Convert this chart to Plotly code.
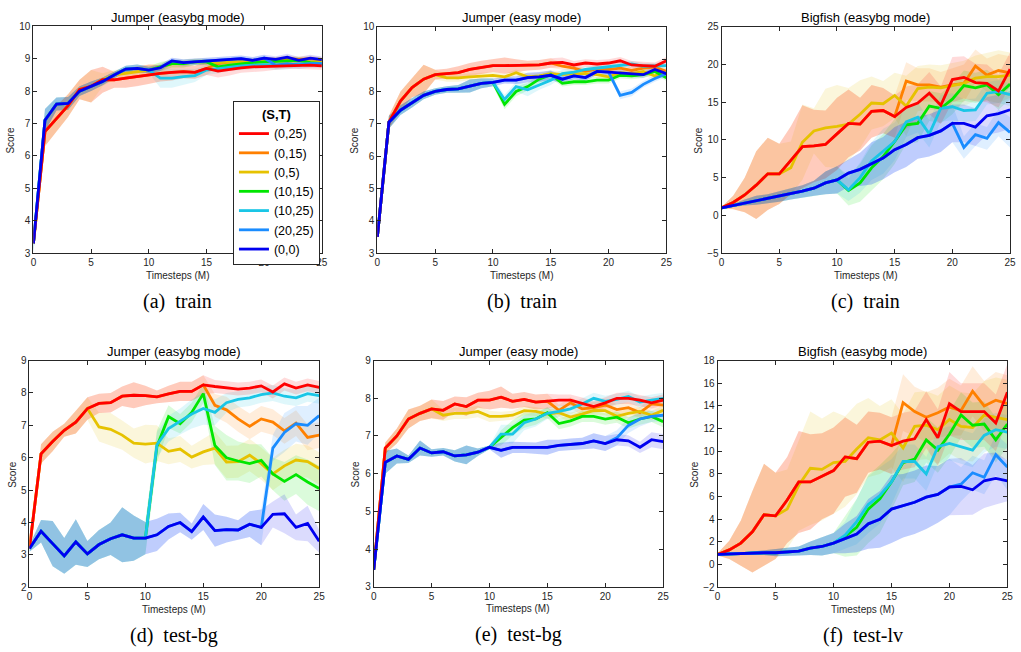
import plotly.graph_objects as go

T = list(range(26))
X_TICKS = [0, 5, 10, 15, 20, 25]
SERIES = ["(0,25)", "(0,15)", "(0,5)", "(10,15)", "(10,25)", "(20,25)", "(0,0)"]

# ---------- (a) Jumper easybg, train ----------
A_RED = [3.3, 6.75, 7.15, 7.55, 8.05, 8.15, 8.35, 8.35, 8.4, 8.45, 8.52, 8.55, 8.58, 8.6, 8.58, 8.7, 8.62, 8.68, 8.72, 8.75, 8.76, 8.78, 8.8, 8.8, 8.8, 8.78]
A_BLUE = [3.3, 7.1, 7.6, 7.62, 8.0, 8.15, 8.3, 8.5, 8.68, 8.7, 8.65, 8.72, 8.93, 8.88, 8.9, 8.92, 8.95, 8.98, 9.0, 8.95, 9.02, 8.98, 9.05, 8.95, 9.02, 8.97]
A_YELLOW = [8.35, 8.5, 8.55, 8.6, 8.65, 8.75, 8.85, 8.85, 8.9, 8.9, 8.88, 8.9, 8.92, 8.9, 8.92, 8.95, 8.92, 8.95, 8.9, 8.9]
A_ORANGE = [8.85, 8.9, 8.9, 8.92, 8.95, 8.95, 9.0, 8.98, 9.0, 8.95]
A_GREEN = [8.75, 8.85, 8.85, 8.9, 8.9, 8.75, 8.8, 8.85, 8.88, 8.9, 8.92, 8.95, 8.95, 8.88, 8.85]
A_CYAN = [8.4, 8.4, 8.45, 8.48, 8.65, 8.7, 8.75, 8.78, 8.8, 8.82, 8.8, 8.82, 8.85, 8.85, 8.85]
A_LBLUE = [8.8, 8.85, 8.8, 8.85, 8.85]
A_RED_SD = [0.05, 0.45, 0.4, 0.35, 0.3, 0.5, 0.4, 0.25, 0.3, 0.3, 0.3, 0.25, 0.25, 0.2, 0.2, 0.2, 0.2, 0.2, 0.15, 0.15, 0.15, 0.12, 0.12, 0.12, 0.12, 0.12]
A_BLUE_SD = [0.3, 0.35, 0.2, 0.2, 0.15, 0.15, 0.12, 0.1, 0.1, 0.12, 0.1, 0.1, 0.1, 0.1, 0.1, 0.1, 0.1, 0.1, 0.1, 0.1, 0.1, 0.1, 0.1, 0.1, 0.1, 0.1]
A_YELLOW_SD = [0.2, 0.15, 0.15, 0.15, 0.15, 0.12, 0.12, 0.12, 0.1, 0.1, 0.1, 0.1, 0.1, 0.1, 0.1, 0.1, 0.1, 0.1, 0.1, 0.1]
A_ORANGE_SD = [0.12, 0.1, 0.1, 0.1, 0.1, 0.1, 0.1, 0.1, 0.1, 0.1]
A_GREEN_SD = [0.15, 0.12, 0.12, 0.1, 0.1, 0.12, 0.1, 0.1, 0.1, 0.1, 0.1, 0.1, 0.1, 0.1, 0.1]
A_CYAN_SD = [0.3, 0.3, 0.25, 0.2, 0.15, 0.15, 0.12, 0.12, 0.12, 0.12, 0.15, 0.15, 0.12, 0.12, 0.12]
A_LBLUE_SD = [0.12, 0.12, 0.12, 0.12, 0.12]

# ---------- (b) Jumper easy, train ----------
B_RED = [3.5, 7.05, 7.7, 8.12, 8.38, 8.52, 8.55, 8.58, 8.68, 8.75, 8.8, 8.8, 8.8, 8.8, 8.82, 8.88, 8.9, 8.82, 8.88, 8.85, 8.88, 8.95, 8.82, 8.8, 8.78, 8.95]
B_BLUE = [3.5, 7.05, 7.42, 7.65, 7.88, 8.0, 8.06, 8.08, 8.17, 8.25, 8.28, 8.35, 8.35, 8.43, 8.45, 8.5, 8.38, 8.48, 8.43, 8.62, 8.6, 8.58, 8.55, 8.52, 8.68, 8.55]
B_YELLOW = [8.42, 8.42, 8.45, 8.48, 8.5, 8.45, 8.58, 8.45, 8.48, 8.55, 8.52, 8.55, 8.55, 8.52, 8.45, 8.58, 8.55, 8.62, 8.48, 8.6]
B_ORANGE = [8.78, 8.72, 8.62, 8.7, 8.68, 8.72, 8.65, 8.72, 8.75, 8.62]
B_GREEN = [7.6, 8.0, 8.15, 8.38, 8.52, 8.25, 8.3, 8.3, 8.35, 8.35, 8.5, 8.48, 8.52, 8.62, 8.42]
B_CYAN = [7.75, 8.15, 8.05, 8.2, 8.35, 8.55, 8.6, 8.68, 8.72, 8.75, 8.8, 8.85, 8.78, 8.78, 8.8]
B_LBLUE = [7.88, 7.97, 8.22, 8.4, 8.55]
B_RED_SD = [0.05, 0.2, 0.3, 0.3, 0.45, 0.15, 0.15, 0.2, 0.2, 0.2, 0.2, 0.25, 0.2, 0.15, 0.15, 0.15, 0.15, 0.12, 0.12, 0.12, 0.12, 0.12, 0.12, 0.12, 0.12, 0.12]
B_BLUE_SD = [0.05, 0.2, 0.15, 0.15, 0.12, 0.1, 0.1, 0.12, 0.2, 0.15, 0.12, 0.1, 0.12, 0.15, 0.15, 0.15, 0.12, 0.1, 0.1, 0.1, 0.1, 0.1, 0.1, 0.1, 0.1, 0.1]
B_YELLOW_SD = [0.12, 0.12, 0.1, 0.1, 0.1, 0.1, 0.1, 0.1, 0.1, 0.1, 0.1, 0.1, 0.1, 0.1, 0.12, 0.12, 0.12, 0.12, 0.12, 0.12]
B_ORANGE_SD = [0.1, 0.1, 0.1, 0.1, 0.1, 0.1, 0.1, 0.1, 0.1, 0.1]
B_GREEN_SD = [0.15, 0.15, 0.12, 0.12, 0.12, 0.1, 0.1, 0.1, 0.1, 0.1, 0.1, 0.1, 0.1, 0.1, 0.1]
B_CYAN_SD = [0.15, 0.15, 0.2, 0.15, 0.15, 0.12, 0.12, 0.1, 0.1, 0.1, 0.1, 0.1, 0.1, 0.1, 0.1]
B_LBLUE_SD = [0.12, 0.12, 0.1, 0.1, 0.1]

# ---------- (c) Bigfish easybg, train ----------
C_RED = [1.0, 1.7, 2.7, 4.0, 5.5, 5.5, 7.3, 9.1, 9.2, 9.4, 10.8, 12.2, 12.1, 13.8, 13.9, 13.1, 14.3, 14.9, 16.2, 14.6, 18.0, 18.3, 17.6, 17.5, 16.5, 19.4]
C_BLUE = [1.0, 1.3, 1.7, 2.0, 2.2, 2.5, 2.8, 3.2, 3.6, 4.3, 4.7, 5.6, 6.1, 6.9, 7.6, 8.7, 9.4, 10.3, 10.6, 11.2, 12.2, 12.2, 11.7, 13.2, 13.5, 14.0]
C_YELLOW = [6.3, 9.7, 11.2, 11.6, 11.8, 12.1, 13.4, 14.9, 14.8, 15.9, 14.5, 16.8, 17.0, 16.9, 17.2, 17.5, 18.2, 18.4, 18.4, 18.6]
C_ORANGE = [17.8, 17.3, 17.3, 17.0, 17.3, 17.5, 19.8, 18.6, 19.2, 18.9]
C_GREEN = [3.3, 4.3, 6.3, 7.8, 9.8, 12.0, 12.2, 14.5, 14.2, 15.4, 17.2, 16.9, 17.3, 16.0, 17.4]
C_CYAN = [3.4, 5.0, 7.2, 8.5, 9.8, 12.4, 13.0, 10.8, 14.2, 14.4, 13.9, 14.0, 16.2, 16.4, 16.0]
C_LBLUE = [9.0, 10.7, 10.2, 12.3, 11.0]
C_RED_SD = [0.1, 0.9, 2.3, 4.5, 4.8, 4.0, 4.5, 5.5, 4.8, 4.5, 4.8, 4.5, 3.5, 3.5, 3.0, 2.8, 2.8, 2.5, 2.8, 2.5, 3.0, 2.8, 2.5, 2.5, 2.2, 2.2]
C_BLUE_SD = [0.1, 0.2, 0.4, 0.6, 0.6, 0.7, 0.7, 0.8, 1.0, 1.5, 1.8, 1.8, 2.2, 2.8, 2.8, 3.0, 3.0, 2.8, 2.8, 2.8, 2.5, 2.5, 2.5, 2.5, 2.5, 2.5]
C_YELLOW_SD = [3.5, 5.0, 3.0, 5.2, 5.5, 4.8, 4.5, 3.5, 3.0, 3.0, 4.0, 3.0, 3.0, 3.0, 3.0, 3.0, 3.0, 3.2, 3.5, 3.0]
C_ORANGE_SD = [2.5, 2.2, 2.2, 2.0, 2.2, 2.5, 2.2, 2.2, 2.2, 2.2]
C_GREEN_SD = [2.0, 2.5, 3.0, 3.0, 3.0, 2.5, 2.5, 2.0, 2.0, 2.0, 2.0, 2.0, 2.0, 2.0, 2.0]
C_CYAN_SD = [1.5, 2.0, 2.5, 3.0, 2.5, 2.0, 2.0, 1.8, 1.8, 1.8, 1.5, 1.5, 1.5, 1.5, 1.5]
C_LBLUE_SD = [1.5, 1.5, 1.5, 1.8, 2.0]

# ---------- (d) Jumper easybg, test-bg ----------
D_RED = [3.2, 6.12, 6.5, 6.85, 7.1, 7.52, 7.68, 7.7, 7.9, 7.93, 7.92, 7.88, 7.97, 8.05, 8.05, 8.25, 8.2, 8.15, 8.12, 8.15, 8.22, 8.03, 8.28, 8.15, 8.25, 8.17]
D_BLUE = [3.2, 3.73, 3.35, 2.97, 3.4, 3.03, 3.32, 3.5, 3.62, 3.52, 3.52, 3.62, 3.88, 4.0, 3.72, 4.17, 3.75, 3.78, 3.77, 3.95, 3.85, 4.25, 4.27, 3.85, 3.97, 3.42]
D_YELLOW = [6.95, 6.88, 6.7, 6.45, 6.42, 6.45, 6.2, 6.27, 6.02, 6.18, 6.3, 5.87, 5.88, 6.08, 5.82, 5.5, 5.75, 5.93, 5.88, 5.67]
D_ORANGE = [7.62, 7.48, 7.2, 6.97, 7.2, 7.1, 6.83, 7.07, 6.63, 6.7]
D_GREEN = [6.35, 7.27, 7.05, 7.4, 7.98, 6.38, 6.0, 5.9, 5.82, 5.92, 5.5, 5.27, 5.48, 5.25, 5.05]
D_CYAN = [6.4, 6.9, 7.12, 7.35, 7.52, 7.4, 7.7, 7.8, 7.85, 7.95, 8.0, 7.9, 7.85, 7.98, 7.92]
D_LBLUE = [6.3, 6.78, 7.05, 7.0, 7.3]
D_RED_SD = [0.05, 0.3, 0.3, 0.2, 0.35, 0.35, 0.3, 0.3, 0.3, 0.4, 0.3, 0.2, 0.25, 0.3, 0.3, 0.3, 0.2, 0.2, 0.2, 0.2, 0.2, 0.2, 0.2, 0.2, 0.2, 0.2]
D_BLUE_SD = [0.1, 0.35, 0.7, 0.55, 0.7, 0.4, 0.45, 0.5, 0.85, 0.7, 0.5, 0.5, 0.4, 0.3, 0.25, 0.4, 0.5, 0.4, 0.3, 0.4, 0.55, 0.4, 0.6, 0.4, 0.55, 0.35]
D_YELLOW_SD = [0.45, 0.5, 0.45, 0.45, 0.6, 0.55, 0.4, 0.4, 0.35, 0.4, 0.5, 0.5, 0.5, 0.5, 0.5, 0.5, 0.5, 0.5, 0.5, 0.5]
D_ORANGE_SD = [0.35, 0.4, 0.4, 0.4, 0.4, 0.4, 0.4, 0.4, 0.4, 0.4]
D_GREEN_SD = [0.5, 0.35, 0.3, 0.3, 0.3, 0.6, 0.7, 0.6, 0.6, 0.5, 0.5, 0.6, 0.6, 0.7, 0.7]
D_CYAN_SD = [0.4, 0.4, 0.4, 0.45, 0.5, 0.4, 0.3, 0.25, 0.25, 0.25, 0.25, 0.25, 0.25, 0.25, 0.25]
D_LBLUE_SD = [0.4, 0.6, 0.55, 0.6, 0.55]

# ---------- (e) Jumper easy, test-bg ----------
E_RED = [3.45, 6.68, 7.0, 7.45, 7.6, 7.72, 7.68, 7.85, 7.78, 7.95, 7.95, 8.03, 7.92, 7.97, 7.9, 7.92, 7.95, 7.95, 7.87, 7.78, 7.88, 8.0, 8.0, 7.95, 7.88, 7.95]
E_BLUE = [3.45, 6.3, 6.47, 6.38, 6.68, 6.55, 6.58, 6.47, 6.5, 6.57, 6.7, 6.62, 6.7, 6.7, 6.68, 6.7, 6.75, 6.78, 6.8, 6.87, 6.8, 6.9, 6.87, 6.7, 6.9, 6.85]
E_YELLOW = [7.55, 7.6, 7.6, 7.65, 7.52, 7.52, 7.55, 7.67, 7.65, 7.58, 7.62, 7.5, 7.58, 7.68, 7.67, 7.52, 7.6, 7.65, 7.55, 7.68]
E_ORANGE = [7.68, 7.88, 7.72, 7.75, 7.82, 7.7, 7.75, 7.62, 7.85, 7.82]
E_GREEN = [6.95, 7.22, 7.42, 7.45, 7.62, 7.33, 7.4, 7.52, 7.52, 7.45, 7.5, 7.35, 7.45, 7.52, 7.38]
E_CYAN = [7.05, 7.05, 7.35, 7.45, 7.6, 7.65, 7.72, 7.85, 8.0, 7.92, 7.97, 8.05, 7.9, 7.95, 8.0]
E_LBLUE = [6.95, 7.28, 7.45, 7.52, 7.55]
E_RED_SD = [0.05, 0.15, 0.2, 0.25, 0.2, 0.25, 0.25, 0.2, 0.25, 0.2, 0.25, 0.28, 0.2, 0.2, 0.2, 0.2, 0.15, 0.15, 0.15, 0.15, 0.15, 0.15, 0.15, 0.15, 0.15, 0.15]
E_BLUE_SD = [0.05, 0.3, 0.2, 0.1, 0.2, 0.1, 0.1, 0.15, 0.25, 0.1, 0.05, 0.2, 0.15, 0.15, 0.15, 0.2, 0.15, 0.15, 0.15, 0.2, 0.2, 0.15, 0.15, 0.15, 0.2, 0.2]
E_YELLOW_SD = [0.15, 0.15, 0.15, 0.15, 0.15, 0.12, 0.12, 0.12, 0.12, 0.12, 0.12, 0.12, 0.12, 0.12, 0.12, 0.12, 0.12, 0.12, 0.12, 0.12]
E_ORANGE_SD = [0.15, 0.15, 0.15, 0.15, 0.15, 0.15, 0.15, 0.15, 0.15, 0.15]
E_GREEN_SD = [0.2, 0.2, 0.2, 0.15, 0.15, 0.15, 0.15, 0.15, 0.15, 0.15, 0.15, 0.15, 0.15, 0.15, 0.15]
E_CYAN_SD = [0.25, 0.25, 0.2, 0.2, 0.15, 0.15, 0.15, 0.15, 0.15, 0.15, 0.15, 0.15, 0.15, 0.15, 0.15]
E_LBLUE_SD = [0.2, 0.2, 0.2, 0.15, 0.15]

# ---------- (f) Bigfish easybg, test-lv ----------
F_RED = [0.9, 1.3, 1.9, 2.9, 4.4, 4.3, 5.7, 7.3, 7.3, 7.8, 8.3, 9.5, 9.35, 10.8, 10.9, 10.5, 10.9, 11.1, 12.8, 11.2, 14.2, 13.5, 13.5, 13.5, 12.5, 15.2]
F_BLUE = [0.9, 0.95, 1.0, 1.0, 1.05, 1.05, 1.15, 1.2, 1.45, 1.6, 1.9, 2.3, 2.7, 3.6, 4.0, 4.9, 5.2, 5.5, 5.95, 6.2, 6.85, 6.9, 6.6, 7.4, 7.6, 7.4]
F_YELLOW = [4.9, 7.0, 8.5, 8.4, 9.0, 9.1, 10.2, 11.2, 11.0, 11.6, 10.3, 12.2, 12.3, 11.9, 12.8, 12.2, 12.1, 13.2, 13.0, 12.8]
F_ORANGE = [14.3, 13.5, 13.0, 13.4, 13.9, 13.6, 15.3, 14.0, 14.5, 14.2]
F_GREEN = [2.5, 3.3, 4.9, 5.8, 7.3, 9.0, 9.3, 11.0, 10.1, 11.5, 13.2, 12.3, 12.4, 11.0, 12.4]
F_CYAN = [2.6, 3.8, 5.3, 6.1, 7.3, 9.1, 9.1, 8.0, 10.4, 10.7, 10.4, 10.1, 11.4, 11.9, 11.7]
F_LBLUE = [7.1, 8.1, 7.7, 9.7, 8.6]
F_RED_SD = [0.1, 0.8, 2.0, 3.6, 4.5, 3.8, 3.8, 4.5, 4.2, 3.8, 3.8, 3.5, 3.0, 2.7, 2.5, 2.5, 2.5, 2.5, 2.5, 2.5, 2.8, 2.5, 2.5, 2.5, 2.5, 2.5]
F_BLUE_SD = [0.05, 0.1, 0.1, 0.15, 0.2, 0.3, 0.35, 0.4, 0.6, 0.8, 0.9, 1.3, 1.6, 2.2, 2.5, 3.0, 2.8, 2.8, 2.8, 2.5, 2.5, 2.5, 2.2, 2.4, 2.3, 1.8]
F_YELLOW_SD = [3.5, 4.0, 5.0, 4.5, 4.5, 4.0, 4.0, 3.5, 3.0, 3.0, 3.0, 3.0, 3.0, 3.0, 3.0, 3.0, 3.0, 3.0, 3.5, 3.5]
F_ORANGE_SD = [2.5, 2.2, 2.2, 2.2, 2.5, 2.2, 2.2, 2.2, 2.5, 2.5]
F_GREEN_SD = [1.8, 2.5, 3.0, 3.0, 2.5, 2.0, 2.0, 2.0, 2.0, 2.0, 2.0, 2.0, 2.0, 2.0, 2.0]
F_CYAN_SD = [1.2, 2.0, 2.5, 2.5, 2.0, 1.5, 1.5, 1.5, 1.5, 1.5, 1.5, 1.5, 1.5, 1.5, 1.5]
F_LBLUE_SD = [1.5, 1.5, 1.5, 1.8, 2.0]

COLORS = {
    "(0,25)": (255, 0, 0),
    "(0,15)": (255, 128, 0),
    "(0,5)": (230, 194, 0),
    "(10,15)": (0, 230, 0),
    "(10,25)": (26, 198, 230),
    "(20,25)": (26, 140, 255),
    "(0,0)": (0, 0, 240),
}

def build(red, blue, yellow, orange, green, cyan, lblue):
    return {
        "(0,25)": red,
        "(0,15)": red[:16] + orange,
        "(0,5)": red[:6] + yellow,
        "(10,15)": blue[:11] + green,
        "(10,25)": blue[:11] + cyan,
        "(20,25)": blue[:21] + lblue,
        "(0,0)": blue,
    }

PANELS = [
    dict(title="Jumper (easybg mode)", caption="(a)  train", yr=[3, 10], dt=1,
         dom=([30.7, 321.7], [21.7, 252.3]), ytx=8,
         m=build(A_RED, A_BLUE, A_YELLOW, A_ORANGE, A_GREEN, A_CYAN, A_LBLUE),
         s=build(A_RED_SD, A_BLUE_SD, A_YELLOW_SD, A_ORANGE_SD, A_GREEN_SD, A_CYAN_SD, A_LBLUE_SD)),
    dict(title="Jumper (easy mode)", caption="(b)  train", yr=[3, 10], dt=1,
         dom=([377.7, 669.3], [22.2, 252.3]), ytx=355,
         m=build(B_RED, B_BLUE, B_YELLOW, B_ORANGE, B_GREEN, B_CYAN, B_LBLUE),
         s=build(B_RED_SD, B_BLUE_SD, B_YELLOW_SD, B_ORANGE_SD, B_GREEN_SD, B_CYAN_SD, B_LBLUE_SD)),
    dict(title="Bigfish (easybg mode)", caption="(c)  train", yr=[-5, 25], dt=5,
         dom=([725, 1016], [22.2, 252.3]), ytx=702,
         m=build(C_RED, C_BLUE, C_YELLOW, C_ORANGE, C_GREEN, C_CYAN, C_LBLUE),
         s=build(C_RED_SD, C_BLUE_SD, C_YELLOW_SD, C_ORANGE_SD, C_GREEN_SD, C_CYAN_SD, C_LBLUE_SD)),
    dict(title="Jumper (easybg mode)", caption="(d)  test-bg", yr=[2, 9], dt=1,
         dom=([26.7, 319], [361.7, 592.3]), ytx=10,
         m=build(D_RED, D_BLUE, D_YELLOW, D_ORANGE, D_GREEN, D_CYAN, D_LBLUE),
         s=build(D_RED_SD, D_BLUE_SD, D_YELLOW_SD, D_ORANGE_SD, D_GREEN_SD, D_CYAN_SD, D_LBLUE_SD)),
    dict(title="Jumper (easy mode)", caption="(e)  test-bg", yr=[3, 9], dt=1,
         dom=([374, 666], [361.7, 591.7]), ytx=356,
         m=build(E_RED, E_BLUE, E_YELLOW, E_ORANGE, E_GREEN, E_CYAN, E_LBLUE),
         s=build(E_RED_SD, E_BLUE_SD, E_YELLOW_SD, E_ORANGE_SD, E_GREEN_SD, E_CYAN_SD, E_LBLUE_SD)),
    dict(title="Bigfish (easybg mode)", caption="(f)  test-lv", yr=[-2, 18], dt=2,
         dom=([721, 1013.3], [361.7, 592.3]), ytx=698,
         m=build(F_RED, F_BLUE, F_YELLOW, F_ORANGE, F_GREEN, F_CYAN, F_LBLUE),
         s=build(F_RED_SD, F_BLUE_SD, F_YELLOW_SD, F_ORANGE_SD, F_GREEN_SD, F_CYAN_SD, F_LBLUE_SD)),
]

W, H = 1021, 652

def px(x):
    return x / W

def py(y):
    return 1 - y / H

DRAW_ORDER = ["(0,15)", "(0,5)", "(10,15)", "(10,25)", "(20,25)", "(0,25)", "(0,0)"]
AX = "#262626"
FONT = "Liberation Sans, Arial, sans-serif"

fig = go.Figure()
layout = dict(width=W, height=H, margin=dict(l=0, r=0, t=0, b=0),
              paper_bgcolor="white", plot_bgcolor="white", showlegend=True)
annotations = []

for i, p in enumerate(PANELS):
    k = "" if i == 0 else str(i + 1)
    xa, ya = "x" + k, "y" + k
    (x0, x1), (ytop, ybot) = p["dom"]
    layout["xaxis" + k] = dict(domain=[px(x0), px(x1)], anchor=ya, range=[0, 25],
                               tickvals=X_TICKS, ticks="inside", ticklen=4, tickcolor=AX,
                               showline=True, linecolor=AX, linewidth=1, mirror="allticks",
                               showgrid=False, zeroline=False,
                               tickfont=dict(family=FONT, size=10, color=AX))
    layout["yaxis" + k] = dict(domain=[py(ybot), py(ytop)], anchor=xa, range=p["yr"],
                               dtick=p["dt"], tick0=0, ticks="inside", ticklen=4, tickcolor=AX,
                               showline=True, linecolor=AX, linewidth=1, mirror="allticks",
                               showgrid=False, zeroline=False,
                               tickfont=dict(family=FONT, size=10, color=AX))
    xc = (x0 + x1) / 2
    annotations.append(dict(text=p["title"], x=px(xc), y=py(ytop - 9), xref="paper", yref="paper",
                            showarrow=False, xanchor="center", yanchor="middle",
                            font=dict(family=FONT, size=13, color="#000")))
    annotations.append(dict(text="Timesteps (M)", x=px(xc), y=py(ybot + 22.5), xref="paper", yref="paper",
                            showarrow=False, xanchor="center", yanchor="middle",
                            font=dict(family=FONT, size=10, color=AX)))
    annotations.append(dict(text="Score", x=px(p["ytx"]), y=py((ytop + ybot) / 2),
                            xref="paper", yref="paper",
                            showarrow=False, xanchor="center", yanchor="middle", textangle=-90,
                            font=dict(family=FONT, size=10, color=AX)))
    annotations.append(dict(text=p["caption"], x=px(xc), y=py(ybot + 49), xref="paper", yref="paper",
                            showarrow=False, xanchor="center", yanchor="middle",
                            font=dict(family="Liberation Serif, Times New Roman, serif", size=20, color="#000")))

    for name in DRAW_ORDER:
        m, s = p["m"][name], p["s"][name]
        up = [a + b for a, b in zip(m, s)]
        lo = [a - b for a, b in zip(m, s)]
        r, g, b = COLORS[name]
        fig.add_trace(go.Scatter(x=T + T[::-1], y=up + lo[::-1], fill="toself",
                                 fillcolor=f"rgba({r},{g},{b},0.14)", line=dict(width=0),
                                 mode="lines", hoverinfo="skip", showlegend=False,
                                 xaxis=xa, yaxis=ya))
    for name in DRAW_ORDER:
        r, g, b = COLORS[name]
        fig.add_trace(go.Scatter(x=T, y=p["m"][name], mode="lines", name=name,
                                 line=dict(color=f"rgb({r},{g},{b})", width=2.8),
                                 legendgroup=name, showlegend=(i == 0),
                                 legendrank=SERIES.index(name) + 1,
                                 xaxis=xa, yaxis=ya))

layout["annotations"] = annotations
layout["legend"] = dict(x=px(232), y=py(97.7), xanchor="left", yanchor="top",
                        bgcolor="white", bordercolor=AX, borderwidth=1,
                        font=dict(family=FONT, size=12.5, color="#000"),
                        title=dict(text="<b>(S,T)</b>", side="top center",
                                   font=dict(family=FONT, size=13, color="#000")),
                        itemwidth=30, tracegroupgap=0)
fig.update_layout(**layout)
# remove the browser's default 8px page margin so the 1021x652 figure fills the window
fig.write_html("out.html", config={"displayModeBar": False},
               post_script="document.body.style.margin='0px';")
